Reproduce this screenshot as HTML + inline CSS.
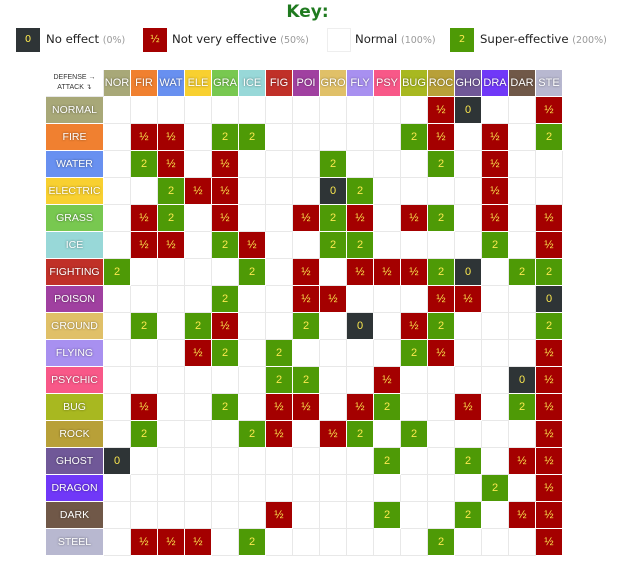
<!DOCTYPE html>
<html><head><meta charset="utf-8"><style>
body{margin:0;width:625px;height:581px;background:#fff;font-family:"DejaVu Sans","Liberation Sans",sans-serif;position:relative;overflow:hidden}
.key{position:absolute;top:2px;left:0;width:615px;text-align:center;color:#1f7a1f;font-weight:bold;font-size:17px}
.kb{position:absolute;top:28px;width:24px;height:24px;box-sizing:border-box;color:#fce94f;font-size:10px;line-height:24px;text-align:center}
.kt{position:absolute;top:32px;font-size:11.7px;color:#222}
.kt span{color:#999;font-size:9.5px}
.g{position:absolute;left:46px;top:70px;display:grid;grid-template-columns:58px repeat(17,27px);grid-auto-rows:27px;font-family:"Liberation Sans",sans-serif}
.g div{box-sizing:border-box;border-right:1px solid #e8e8e8;border-bottom:1px solid #e8e8e8;font-size:11px;text-align:center;line-height:26px;color:#fce94f}
.g div.th,.g div.rh{border-color:#fff;color:#fff;text-shadow:0 0 2px rgba(0,0,0,.5)}
.g div.rh{font-size:10.5px}
.g div.c{font-size:7px;line-height:10px;color:#333;padding-top:3px;border-color:#e8e8e8}
.h{background:#a40000;border-color:#fff!important}
.t{background:#4e9a06;border-color:#fff!important}
.z{background:#2e3436;border-color:#fff!important}
</style></head><body>
<div class="key">Key:</div>
<div class="kb" style="left:16px;background:#2e3436">0</div><div class="kt" style="left:46px">No effect <span>(0%)</span></div>
<div class="kb" style="left:143px;background:#a40000">½</div><div class="kt" style="left:172px">Not very effective <span>(50%)</span></div>
<div class="kb" style="left:327px;border:1px solid #eee"></div><div class="kt" style="left:355px">Normal <span>(100%)</span></div>
<div class="kb" style="left:450px;background:#4e9a06">2</div><div class="kt" style="left:480px">Super-effective <span>(200%)</span></div>
<div class="g">
<div class="c">DEFENSE →<br>ATTACK ↴</div>
<div class="th" style="background:#A8A878">NOR</div><div class="th" style="background:#F08030">FIR</div><div class="th" style="background:#6890F0">WAT</div><div class="th" style="background:#F8D030">ELE</div><div class="th" style="background:#78C850">GRA</div><div class="th" style="background:#98D8D8">ICE</div><div class="th" style="background:#C03028">FIG</div><div class="th" style="background:#A040A0">POI</div><div class="th" style="background:#E0C068">GRO</div><div class="th" style="background:#A890F0">FLY</div><div class="th" style="background:#F85888">PSY</div><div class="th" style="background:#A8B820">BUG</div><div class="th" style="background:#B8A038">ROC</div><div class="th" style="background:#705898">GHO</div><div class="th" style="background:#7038F8">DRA</div><div class="th" style="background:#705848">DAR</div><div class="th" style="background:#B8B8D0">STE</div>

<div class="rh" style="background:#A8A878">NORMAL</div><div></div><div></div><div></div><div></div><div></div><div></div><div></div><div></div><div></div><div></div><div></div><div></div><div class="h">½</div><div class="z">0</div><div></div><div></div><div class="h">½</div>

<div class="rh" style="background:#F08030">FIRE</div><div></div><div class="h">½</div><div class="h">½</div><div></div><div class="t">2</div><div class="t">2</div><div></div><div></div><div></div><div></div><div></div><div class="t">2</div><div class="h">½</div><div></div><div class="h">½</div><div></div><div class="t">2</div>

<div class="rh" style="background:#6890F0">WATER</div><div></div><div class="t">2</div><div class="h">½</div><div></div><div class="h">½</div><div></div><div></div><div></div><div class="t">2</div><div></div><div></div><div></div><div class="t">2</div><div></div><div class="h">½</div><div></div><div></div>

<div class="rh" style="background:#F8D030">ELECTRIC</div><div></div><div></div><div class="t">2</div><div class="h">½</div><div class="h">½</div><div></div><div></div><div></div><div class="z">0</div><div class="t">2</div><div></div><div></div><div></div><div></div><div class="h">½</div><div></div><div></div>

<div class="rh" style="background:#78C850">GRASS</div><div></div><div class="h">½</div><div class="t">2</div><div></div><div class="h">½</div><div></div><div></div><div class="h">½</div><div class="t">2</div><div class="h">½</div><div></div><div class="h">½</div><div class="t">2</div><div></div><div class="h">½</div><div></div><div class="h">½</div>

<div class="rh" style="background:#98D8D8">ICE</div><div></div><div class="h">½</div><div class="h">½</div><div></div><div class="t">2</div><div class="h">½</div><div></div><div></div><div class="t">2</div><div class="t">2</div><div></div><div></div><div></div><div></div><div class="t">2</div><div></div><div class="h">½</div>

<div class="rh" style="background:#C03028">FIGHTING</div><div class="t">2</div><div></div><div></div><div></div><div></div><div class="t">2</div><div></div><div class="h">½</div><div></div><div class="h">½</div><div class="h">½</div><div class="h">½</div><div class="t">2</div><div class="z">0</div><div></div><div class="t">2</div><div class="t">2</div>

<div class="rh" style="background:#A040A0">POISON</div><div></div><div></div><div></div><div></div><div class="t">2</div><div></div><div></div><div class="h">½</div><div class="h">½</div><div></div><div></div><div></div><div class="h">½</div><div class="h">½</div><div></div><div></div><div class="z">0</div>

<div class="rh" style="background:#E0C068">GROUND</div><div></div><div class="t">2</div><div></div><div class="t">2</div><div class="h">½</div><div></div><div></div><div class="t">2</div><div></div><div class="z">0</div><div></div><div class="h">½</div><div class="t">2</div><div></div><div></div><div></div><div class="t">2</div>

<div class="rh" style="background:#A890F0">FLYING</div><div></div><div></div><div></div><div class="h">½</div><div class="t">2</div><div></div><div class="t">2</div><div></div><div></div><div></div><div></div><div class="t">2</div><div class="h">½</div><div></div><div></div><div></div><div class="h">½</div>

<div class="rh" style="background:#F85888">PSYCHIC</div><div></div><div></div><div></div><div></div><div></div><div></div><div class="t">2</div><div class="t">2</div><div></div><div></div><div class="h">½</div><div></div><div></div><div></div><div></div><div class="z">0</div><div class="h">½</div>

<div class="rh" style="background:#A8B820">BUG</div><div></div><div class="h">½</div><div></div><div></div><div class="t">2</div><div></div><div class="h">½</div><div class="h">½</div><div></div><div class="h">½</div><div class="t">2</div><div></div><div></div><div class="h">½</div><div></div><div class="t">2</div><div class="h">½</div>

<div class="rh" style="background:#B8A038">ROCK</div><div></div><div class="t">2</div><div></div><div></div><div></div><div class="t">2</div><div class="h">½</div><div></div><div class="h">½</div><div class="t">2</div><div></div><div class="t">2</div><div></div><div></div><div></div><div></div><div class="h">½</div>

<div class="rh" style="background:#705898">GHOST</div><div class="z">0</div><div></div><div></div><div></div><div></div><div></div><div></div><div></div><div></div><div></div><div class="t">2</div><div></div><div></div><div class="t">2</div><div></div><div class="h">½</div><div class="h">½</div>

<div class="rh" style="background:#7038F8">DRAGON</div><div></div><div></div><div></div><div></div><div></div><div></div><div></div><div></div><div></div><div></div><div></div><div></div><div></div><div></div><div class="t">2</div><div></div><div class="h">½</div>

<div class="rh" style="background:#705848">DARK</div><div></div><div></div><div></div><div></div><div></div><div></div><div class="h">½</div><div></div><div></div><div></div><div class="t">2</div><div></div><div></div><div class="t">2</div><div></div><div class="h">½</div><div class="h">½</div>

<div class="rh" style="background:#B8B8D0">STEEL</div><div></div><div class="h">½</div><div class="h">½</div><div class="h">½</div><div></div><div class="t">2</div><div></div><div></div><div></div><div></div><div></div><div></div><div class="t">2</div><div></div><div></div><div></div><div class="h">½</div>
</div>
</body></html>
